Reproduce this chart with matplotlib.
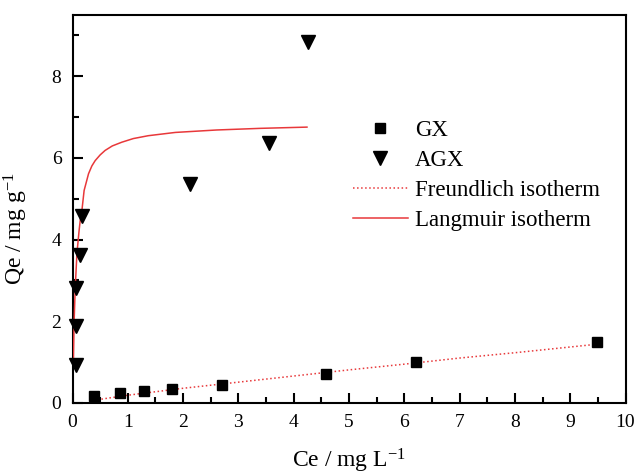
#!/usr/bin/env python3
"""
plot.py
Adsorption isotherms of GX and AGX with Freundlich and Langmuir fits.
"""

# Imports
# ----------------------------------------------------------------------
import matplotlib
matplotlib.use("Agg")
import matplotlib.pyplot as plt
# ----------------------------------------------------------------------

# Data
# ----------------------------------------------------------------------
GX_CE = [0.39, 0.85, 1.29, 1.80, 2.70, 4.58, 6.21, 9.48]
GX_QE = [0.17, 0.24, 0.29, 0.35, 0.44, 0.72, 1.01, 1.50]

AGX_CE = [0.06, 0.06, 0.06, 0.14, 0.17, 2.12, 3.56, 4.25]
AGX_QE = [0.93, 1.89, 2.81, 3.62, 4.57, 5.36, 6.37, 8.84]

FREUNDLICH_CE = [0.45, 1.0, 2.0, 3.0, 4.0, 5.0, 6.0, 7.0, 8.0, 9.0, 9.5]
FREUNDLICH_QE = [0.08, 0.19, 0.36, 0.51, 0.66, 0.81, 0.95, 1.10, 1.23, 1.37, 1.44]

LANGMUIR_CE = [0.015, 0.03, 0.05, 0.08, 0.12, 0.14, 0.17, 0.21, 0.29, 0.35,
               0.41, 0.50, 0.59, 0.72, 0.89, 1.10, 1.37, 1.86, 2.61, 3.40, 4.24]
LANGMUIR_QE = [1.00, 2.03, 2.84, 3.66, 4.23, 4.47, 4.71, 5.20, 5.61, 5.80,
               5.93, 6.07, 6.18, 6.29, 6.38, 6.47, 6.54, 6.62, 6.68, 6.72, 6.75]

X_TICKS = [0, 1, 2, 3, 4, 5, 6, 7, 8, 9, 10]
Y_TICKS = [0, 2, 4, 6, 8]
XLABEL = r"Ce / mg L$^{\mathregular{-1}}$"
YLABEL = r"Qe / mg g$^{\mathregular{-1}}$"
# ----------------------------------------------------------------------

# Style
# ----------------------------------------------------------------------
RED = "#e8383a"
plt.rcParams.update({
    "font.family": "Liberation Serif",
    "mathtext.fontset": "custom",
    "mathtext.rm": "Liberation Serif",
    "mathtext.it": "Liberation Serif:italic",
    "axes.linewidth": 1.5,
})


def main():
    fig = plt.figure(figsize=(6.36, 4.75), dpi=100)
    ax = fig.add_axes([0.114, 0.1516, 0.8695, 0.8174])

    ax.plot(GX_CE, GX_QE, "s", color="black", markersize=7,
            linestyle="none", label="GX", zorder=4)
    ax.plot(AGX_CE, AGX_QE, "v", color="black", markersize=9.5,
            linestyle="none", label="AGX", zorder=4, clip_on=False)
    ax.plot(FREUNDLICH_CE, FREUNDLICH_QE, ":", color=RED, linewidth=1.1,
            label="Freundlich isotherm", zorder=3)
    ax.plot(LANGMUIR_CE, LANGMUIR_QE, "-", color=RED, linewidth=1.1,
            label="Langmuir isotherm", zorder=3)

    ax.set_xlim(0, 10)
    ax.set_ylim(0, 9.5)
    ax.set_xticks(X_TICKS)
    ax.set_yticks(Y_TICKS)
    ax.set_xticks([x + 0.5 for x in X_TICKS[:-1]], minor=True)
    ax.set_yticks([y + 1 for y in Y_TICKS], minor=True)
    ax.tick_params(which="both", direction="in", top=False, right=False,
                   width=1.5, labelsize=14, pad=8)
    ax.tick_params(which="major", length=7)
    ax.tick_params(which="minor", length=4)

    ax.set_xlabel(XLABEL, fontsize=17, labelpad=11)
    ax.set_ylabel(YLABEL, fontsize=17)
    ax.yaxis.set_label_coords(-0.077, 0.45)

    ax.legend(loc="upper left", bbox_to_anchor=(0.507, 0.73),
              frameon=False, fontsize=16.5, borderpad=0, borderaxespad=0,
              handlelength=2.4, handletextpad=0.3, labelspacing=0.4,
              numpoints=1)

    fig.savefig("out.png", dpi=100)


if __name__ == "__main__":
    main()
